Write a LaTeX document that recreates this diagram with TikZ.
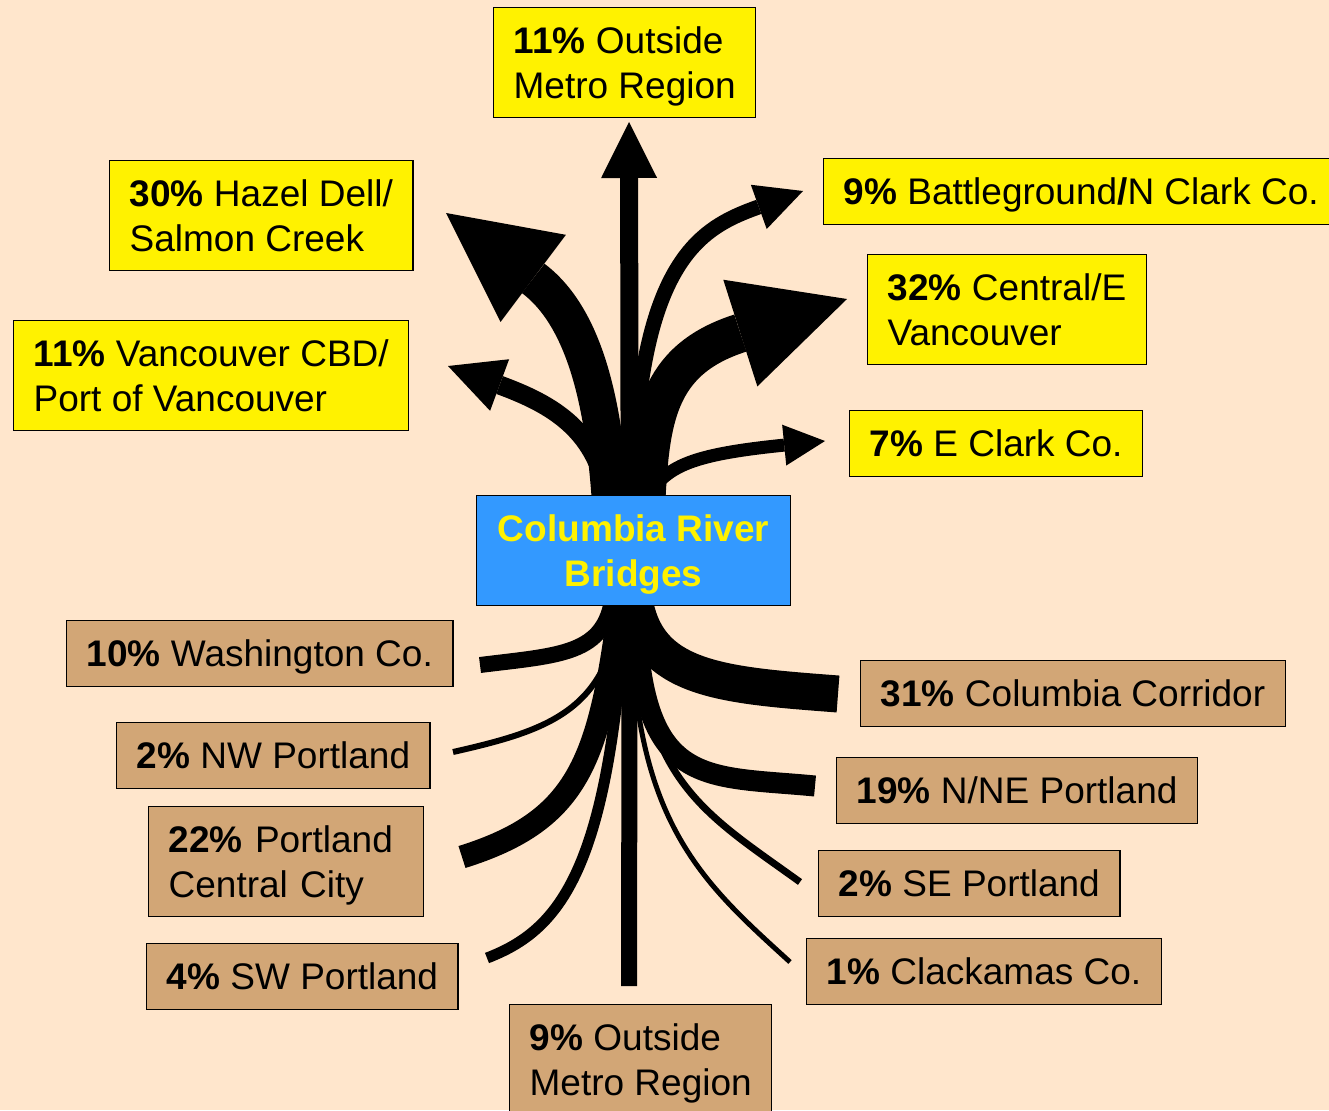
\documentclass[tikz,border=0pt]{standalone}
\usepackage{fontspec}
\setmainfont{Liberation Sans}
\usetikzlibrary{arrows.meta,calc}
\pgfdeclarelayer{back}
\pgfsetlayers{back,main}
\definecolor{paper}{HTML}{FFE6CC}
\definecolor{oregontan}{HTML}{D2A676}
\definecolor{bridgeblue}{HTML}{3399FF}
\newcommand{\vs}{\rule[-9pt]{0pt}{44pt}}
\tikzset{dest/.style={draw,line width=1.3pt,anchor=north west,inner xsep=20pt,inner ysep=0pt,align=left,font=\fontsize{37}{45}\selectfont},
  wadest/.style={dest,fill=yellow},
  ordest/.style={dest,fill=oregontan},
  oneline/.style={minimum height=66pt},
  twoline/.style={minimum height=110pt},
  trip/.style 2 args={line width=#1pt,-{Triangle[length=#2pt,width=#2pt,line width=0pt]}},
  flow/.style={line width=#1pt}}

\begin{document}
\begin{tikzpicture}[x=1pt,y=-1pt]
        \useasboundingbox (0,0) rectangle (1329,1110);
        \node[draw,line width=1.3pt,fill=bridgeblue,text=yellow,anchor=north west,minimum width=314pt,minimum height=110pt,inner ysep=0pt,align=center,font=\bfseries\fontsize{37}{45}\selectfont] (bridges) at (476,495) {\vs Columbia River\\Bridges\vs};

        \node[wadest,twoline] (outN) at (493,7) {\vs\textbf{11\%} Outside\\Metro Region\vs};
        \node[wadest,twoline] (hazel) at (109,160) {\vs\textbf{30\%} Hazel Dell/\\Salmon Creek\vs};
        \node[wadest,twoline] (vancbd) at (13,320) {\vs\textbf{11\%} Vancouver CBD/\\Port of Vancouver\vs};
        \node[wadest,oneline] (battle) at (823,158) {\vs\textbf{9\%} Battleground\textbf{/}N Clark Co.};
        \node[wadest,twoline] (central) at (867,254) {\vs\textbf{32\%} Central/E\\Vancouver\vs};
        \node[wadest,oneline] (eclark) at (849,410) {\vs\textbf{7\%} E Clark Co.};

        \node[ordest,oneline] (washco) at (66,620) {\vs\textbf{10\%} Washington Co.};
        \node[ordest,oneline] (nw) at (116,722) {\vs\textbf{2\%} NW Portland};
        \node[ordest,twoline,text width=235pt] (cc) at (148,806) {\vs\textbf{22\%} Portland\\Central City\vs};
        \node[ordest,oneline] (sw) at (146,943) {\vs\textbf{4\%} SW Portland};
        \node[ordest,twoline] (outS) at (509,1004) {\vs\textbf{9\%} Outside\\Metro Region\vs};
        \node[ordest,oneline] (colcorr) at (860,660) {\vs\textbf{31\%} Columbia Corridor};
        \node[ordest,oneline] (nne) at (836,757) {\vs\textbf{19\%} N/NE Portland};
        \node[ordest,oneline] (se) at (818,850) {\vs\textbf{2\%} SE Portland};
        \node[ordest,oneline] (clack) at (806,938) {\vs\textbf{1\%} Clackamas Co.};

        \coordinate (tOutN) at (629,122);
        \coordinate (tHazel) at (446,213);
        \coordinate (tVanc) at (448,366);
        \coordinate (tBattle) at (803,191);
        \coordinate (tCentral) at (847,299);
        \coordinate (tEClark) at (825,441);
        \coordinate (eWash) at (480,665);
        \coordinate (eNW) at (453,752);
        \coordinate (eCC) at (462,857);
        \coordinate (eSW) at (487,958);
        \coordinate (eOutS) at (629,986);
        \coordinate (eColCorr) at (838,694);
        \coordinate (eNNE) at (815,786);
        \coordinate (eSE) at (800,882);
        \coordinate (eClack) at (790,962);

        \begin{pgfonlayer}{back}
        \fill[paper] (0,0) rectangle (1329,1110);
        \draw[trip={18}{56}] ($(bridges.north)+(-4,10)$) -- (tOutN);
        \draw[trip={37}{109}] ($(bridges.north)+(-23,10)$) .. controls (605,420) and (590,321) .. (tHazel);
        \draw[trip={19}{55}] ($(bridges.north)+(-25,10)$) .. controls (600,430) and (551,404) .. (tVanc);
        \draw[trip={15}{47}] ($(bridges.north)+(-1,10)$) .. controls (636,260) and (700,228) .. (tBattle);
        \draw[trip={39}{112}] ($(bridges.north)+(12,10)$) .. controls (650,420) and (656,360) .. (tCentral);
        \draw[trip={13}{41}] ($(bridges.north)+(7,10)$) .. controls (665,470) and (676,456) .. (tEClark);
        \draw[flow=16] ($(bridges.south)+(-21,-10)$) .. controls (605,655) and (560,655) .. (eWash);
        \draw[flow=6] ($(bridges.south)+(-13,-10)$) .. controls (612,710) and (550,730) .. (eNW);
        \draw[flow=23] ($(bridges.south)+(-13,-10)$) .. controls (600,760) and (580,820) .. (eCC);
        \draw[flow=11] ($(bridges.south)+(-8,-10)$) .. controls (610,870) and (560,930) .. (eSW);
        \draw[flow=16] ($(bridges.south)+(-4,-10)$) -- (eOutS);
        \draw[flow=37] ($(bridges.south)+(0,-10)$) .. controls (645,680) and (720,685) .. (eColCorr);
        \draw[flow=21] ($(bridges.south)+(2,-10)$) .. controls (638,790) and (700,775) .. (eNNE);
        \draw[flow=7] ($(bridges.south)+(-1,-10)$) .. controls (640,780) and (700,810) .. (eSE);
        \draw[flow=5] ($(bridges.south)+(-3,-10)$) .. controls (630,820) and (700,880) .. (eClack);
        \end{pgfonlayer}
    \end{tikzpicture}
\end{document}
